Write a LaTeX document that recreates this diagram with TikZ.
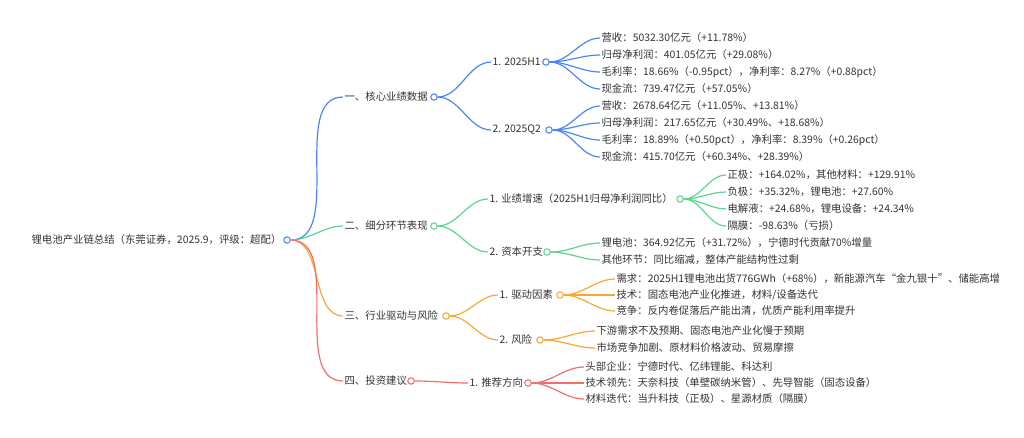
\documentclass[tikz,border=0pt]{standalone}
\usepackage{fontspec}
\setmainfont{Noto Sans CJK SC}
\usetikzlibrary{positioning}
\definecolor{cblue}{HTML}{4A86F7}
\definecolor{cgreen}{HTML}{5CD68C}
\definecolor{corange}{HTML}{F7A833}
\definecolor{cred}{HTML}{F26D6D}
\definecolor{ctext}{HTML}{333333}
\begin{document}
\begin{tikzpicture}[
                x=0.0264cm, y=-0.0264cm,
                T/.style = {anchor=west, inner sep=1pt, text=ctext, font=\fontsize{7.8}{9}\selectfont},
                C/.style = {circle, draw, fill=white, line width=0.8pt, inner sep=1.7pt},
                L/.style = {line width=0.9pt, out=0, in=180, looseness=0.9}
                    ]
                \useasboundingbox (0,0) rectangle (1024,437);
                % root
                \node[T] (root) at (30,240) {锂电池产业链总结（东莞证券，2025.9，评级：超配）};
                \node[C, draw=cblue] (rootc) at (287,240) {};
                % level 1
                \node[T] (a) at (343,97) {一、核心业绩数据};
                \node[T] (b) at (343,226) {二、细分环节表现};
                \node[T] (c) at (343,316) {三、行业驱动与风险};
                \node[T] (d) at (343,381) {四、投资建议};
                \node[C, draw=cblue] (ac) at (434,97) {};
                \node[C, draw=cgreen] (bc) at (434,226) {};
                \node[C, draw=corange] (cc) at (446,316) {};
                \node[C, draw=cred] (dc) at (411,381) {};
                % level 2
                \node[T] (a1) at (491,62) {1. 2025H1};
                \node[T] (a2) at (491,130) {2. 2025Q2};
                \node[T] (b1) at (488,199) {1. 业绩增速（2025H1归母净利润同比）};
                \node[T] (b2) at (488,252) {2. 资本开支};
                \node[T] (c1) at (498,295) {1. 驱动因素};
                \node[T] (c2) at (498,340) {2. 风险};
                \node[T] (d1) at (468,383) {1. 推荐方向};
                \node[C, draw=cblue] (a1c) at (546,62) {};
                \node[C, draw=cblue] (a2c) at (549,130) {};
                \node[C, draw=cgreen] (b1c) at (680,199) {};
                \node[C, draw=cgreen] (b2c) at (547,252) {};
                \node[C, draw=corange] (c1c) at (560,295) {};
                \node[C, draw=corange] (c2c) at (540,340) {};
                \node[C, draw=cred] (d1c) at (528,383) {};
                % leaves
                \node[T] (a11) at (600,38) {营收：5032.30亿元（+11.78\%）};
                \node[T] (a12) at (600,55) {归母净利润：401.05亿元（+29.08\%）};
                \node[T] (a13) at (600,72) {毛利率：18.66\%（-0.95pct），净利率：8.27\%（+0.88pct）};
                \node[T] (a14) at (600,89) {现金流：739.47亿元（+57.05\%）};
                \node[T] (a21) at (600,106) {营收：2678.64亿元（+11.05\%、+13.81\%）};
                \node[T] (a22) at (600,123) {归母净利润：217.65亿元（+30.49\%、+18.68\%）};
                \node[T] (a23) at (600,140) {毛利率：18.89\%（+0.50pct），净利率：8.39\%（+0.26pct）};
                \node[T] (a24) at (600,157) {现金流：415.70亿元（+60.34\%、+28.39\%）};
                \node[T] (b11) at (726,175) {正极：+164.02\%，其他材料：+129.91\%};
                \node[T] (b12) at (726,192) {负极：+35.32\%，锂电池：+27.60\%};
                \node[T] (b13) at (726,209) {电解液：+24.68\%，锂电设备：+24.34\%};
                \node[T] (b14) at (726,226) {隔膜：-98.63\%（亏损）};
                \node[T] (b21) at (600,243) {锂电池：364.92亿元（+31.72\%），宁德时代贡献70\%增量};
                \node[T] (b22) at (600,260) {其他环节：同比缩减，整体产能结构性过剩};
                \node[T] (c11) at (615,279) {需求：2025H1锂电池出货776GWh（+68\%），新能源汽车“金九银十”、储能高增};
                \node[T] (c12) at (615,295) {技术：固态电池产业化推进，材料/设备迭代};
                \node[T] (c13) at (615,311) {竞争：反内卷促落后产能出清，优质产能利用率提升};
                \node[T] (c21) at (595,331) {下游需求不及预期、固态电池产业化慢于预期};
                \node[T] (c22) at (595,348) {市场竞争加剧、原材料价格波动、贸易摩擦};
                \node[T] (d11) at (584,367) {头部企业：宁德时代、亿纬锂能、科达利};
                \node[T] (d12) at (584,383) {技术领先：天奈科技（单壁碳纳米管）、先导智能（固态设备）};
                \node[T] (d13) at (584,399) {材料迭代：当升科技（正极）、星源材质（隔膜）};
                % links
                \draw[L, cblue] (rootc.east) to (a.west);
                \draw[L, cgreen] (rootc.east) to (b.west);
                \draw[L, corange] (rootc.east) to (c.west);
                \draw[L, cred] (rootc.east) to (d.west);
                \draw[L, cblue] (ac.east) to (a1.west);
                \draw[L, cblue] (ac.east) to (a2.west);
                \draw[L, cgreen] (bc.east) to (b1.west);
                \draw[L, cgreen] (bc.east) to (b2.west);
                \draw[L, corange] (cc.east) to (c1.west);
                \draw[L, corange] (cc.east) to (c2.west);
                \draw[L, cred] (dc.east) to (d1.west);
                \foreach \p/\q in {a1c/a11, a1c/a12, a1c/a13, a1c/a14, a2c/a21, a2c/a22, a2c/a23, a2c/a24}
                    \draw[L, cblue] (\p.east) to (\q.west);
                \foreach \p/\q in {b1c/b11, b1c/b12, b1c/b13, b1c/b14, b2c/b21, b2c/b22}
                    \draw[L, cgreen] (\p.east) to (\q.west);
                \foreach \p/\q in {c1c/c11, c1c/c12, c1c/c13, c2c/c21, c2c/c22}
                    \draw[L, corange] (\p.east) to (\q.west);
                \foreach \q in {d11, d12, d13}
                    \draw[L, cred] (d1c.east) to (\q.west);
            \end{tikzpicture}
\end{document}
